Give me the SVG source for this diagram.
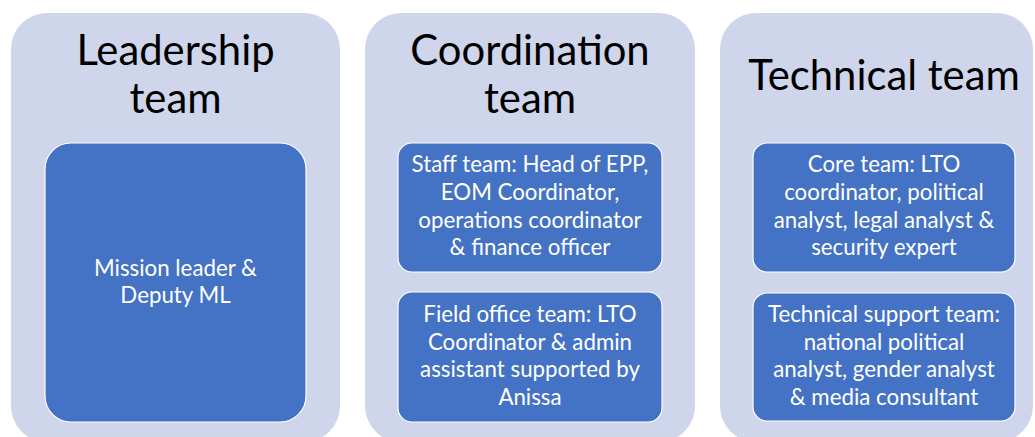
<svg xmlns="http://www.w3.org/2000/svg" width="1035" height="437" viewBox="0 0 1035 437">
<style>
.panel{fill:#CFD5EA;}
.box{fill:#4472C4;stroke:#ffffff;stroke-width:1.2;}
.title{font-family:Lato,"Open Sans",sans-serif;font-size:41.8px;fill:#000;text-anchor:middle;}
.lbl{font-family:Lato,"Open Sans",sans-serif;font-size:22.3px;fill:#fff;text-anchor:middle;}
</style>
<rect width="1035" height="437" fill="#ffffff"/>
<g id="leadership">
<rect class="panel" x="11" y="13" width="329" height="429" rx="36"/>
<text class="title" x="175.5" y="65">Leadership</text>
<text class="title" x="175.5" y="113">team</text>
</g>
<g id="mission-leader">
<rect class="box" x="45" y="143" width="261" height="279" rx="26"/>
<text class="lbl" x="175.5" y="276">Mission leader &amp;</text>
<text class="lbl" x="175.5" y="303">Deputy ML</text>
</g>
<g id="coordination">
<rect class="panel" x="365" y="13" width="330" height="429" rx="36"/>
<text class="title" x="530" y="65">Coordination</text>
<text class="title" x="530" y="113">team</text>
</g>
<g id="staff-team">
<rect class="box" x="398" y="143" width="264" height="129" rx="14"/>
<text class="lbl" x="530" y="172">Staff team: Head of EPP,</text>
<text class="lbl" x="530" y="200">EOM Coordinator,</text>
<text class="lbl" x="530" y="228">operations coordinator</text>
<text class="lbl" x="530" y="255">&amp; finance officer</text>
</g>
<g id="field-office-team">
<rect class="box" x="398" y="292" width="264" height="130" rx="14"/>
<text class="lbl" x="530" y="322">Field office team: LTO</text>
<text class="lbl" x="530" y="350">Coordinator &amp; admin</text>
<text class="lbl" x="530" y="377">assistant supported by</text>
<text class="lbl" x="530" y="405">Anissa</text>
</g>
<g id="technical">
<rect class="panel" x="720" y="13" width="313" height="429" rx="36"/>
<text class="title" x="884" y="90">Technical team</text>
</g>
<g id="core-team">
<rect class="box" x="753" y="143" width="262" height="129" rx="14"/>
<text class="lbl" x="884" y="172">Core team: LTO</text>
<text class="lbl" x="884" y="200">coordinator, political</text>
<text class="lbl" x="884" y="228">analyst, legal analyst &amp;</text>
<text class="lbl" x="884" y="255">security expert</text>
</g>
<g id="technical-support-team">
<rect class="box" x="753" y="293" width="262" height="128" rx="14"/>
<text class="lbl" x="884" y="322">Technical support team:</text>
<text class="lbl" x="884" y="350">national political</text>
<text class="lbl" x="884" y="377">analyst, gender analyst</text>
<text class="lbl" x="884" y="405">&amp; media consultant</text>
</g>
<g id="connectors"></g>
</svg>
